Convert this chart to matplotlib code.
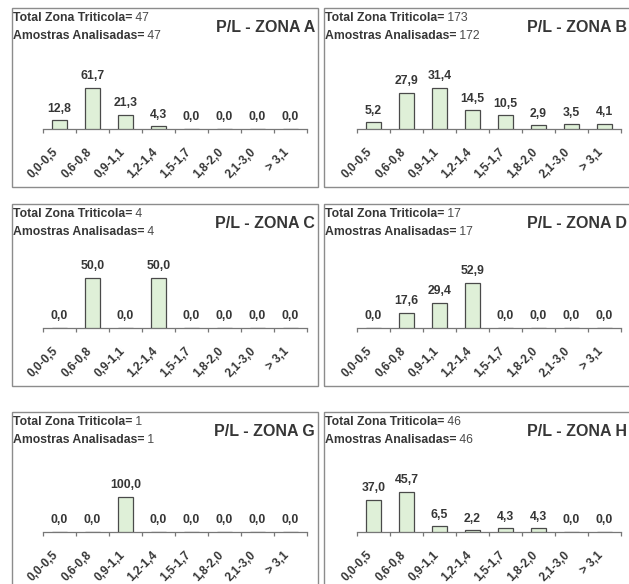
import matplotlib
matplotlib.use("Agg")
import matplotlib.pyplot as plt
from matplotlib.patches import Rectangle
from matplotlib.text import Annotation
from matplotlib.transforms import ScaledTranslation

plt.rcParams['font.family'] = ['Liberation Sans', 'DejaVu Sans']

categories = ["0,0-0,5", "0,6-0,8", "0,9-1,1", "1,2-1,4", "1,5-1,7", "1,8-2,0", "2,1-3,0", "> 3,1"]
zones = ["A", "B", "C", "D", "G", "H"]
totals = [47, 173, 4, 17, 1, 46]
amostras = [47, 172, 4, 17, 1, 46]
values_A = [12.8, 61.7, 21.3, 4.3, 0.0, 0.0, 0.0, 0.0]
values_B = [5.2, 27.9, 31.4, 14.5, 10.5, 2.9, 3.5, 4.1]
values_C = [0.0, 50.0, 0.0, 50.0, 0.0, 0.0, 0.0, 0.0]
values_D = [0.0, 17.6, 29.4, 52.9, 0.0, 0.0, 0.0, 0.0]
values_G = [0.0, 0.0, 100.0, 0.0, 0.0, 0.0, 0.0, 0.0]
values_H = [37.0, 45.7, 6.5, 2.2, 4.3, 4.3, 0.0, 0.0]
all_values = [values_A, values_B, values_C, values_D, values_G, values_H]

# layout (pixels)
W, H = 629, 584
fig = plt.figure(figsize=(W / 100, H / 100), dpi=100)
fig.patch.set_facecolor("white")

box_lefts = [12, 324]
box_width = 306
box_tops = [8, 204, 412]
box_bottoms = [187, 386, 600]
baselines = [129, 328, 532]
axis_offset_left = [31, 33]
axis_width = 264
plot_h = 60
tallest_px = [41, 41, 50, 45, 35, 40]

text_col = "#363636"
bar_face = "#dff0d8"
bar_edge = "#4a4a4a"
frame_col = "#8c8c8c"


def fr(x, y, w, h):
    return [x / W, 1 - (y + h) / H, w / W, h / H]


for i, zone in enumerate(zones):
    r, c = divmod(i, 2)
    bl, bt, bb = box_lefts[c], box_tops[r], box_bottoms[r]
    # frame box
    fig.patches.append(Rectangle((bl / W, 1 - bb / H), box_width / W, (bb - bt) / H,
                                 transform=fig.transFigure, fill=False,
                                 edgecolor=frame_col, linewidth=1.0))
    # header texts
    for line, (lab, num) in enumerate([("Total Zona Triticola=", totals[i]),
                                       ("Amostras Analisadas=", amostras[i])]):
        t = fig.text((bl + 1) / W, 1 - (bt + 9 + 18 * line) / H, lab,
                     fontsize=8.8, fontweight="bold", color=text_col, va="baseline", ha="left")
        t.set_y(1 - (bt + 13 + 18 * line) / H)
        ann = Annotation(f" {num}", xy=(1, 0), xycoords=t, xytext=(0, 0),
                         textcoords="offset points", va="bottom", ha="left",
                         fontsize=8.8, color="#4a4a4a")
        fig.add_artist(ann)
    fig.text((bl + box_width - 3) / W, 1 - (bt + 20) / H, f"P/L - ZONA {zone}",
             fontsize=11.5, fontweight="bold", color=text_col, va="center", ha="right")

    vals = all_values[i]
    ax = fig.add_axes(fr(bl + axis_offset_left[c], baselines[r] - plot_h, axis_width, plot_h))
    xs = list(range(len(categories)))
    ax.bar(xs, vals, width=0.45, color=bar_face, edgecolor=bar_edge, linewidth=0.9, zorder=3)
    ymax = max(vals) * plot_h / tallest_px[i]
    ax.set_ylim(0, ymax)
    ax.set_xlim(-0.5, len(categories) - 0.5)
    for x, v in zip(xs, vals):
        ax.annotate(f"{v:.1f}".replace(".", ","), (x, v), xytext=(0, 4),
                    textcoords="offset points", ha="center", va="bottom",
                    fontsize=8.8, fontweight="bold", color=text_col)
    for s in ["top", "right", "left"]:
        ax.spines[s].set_visible(False)
    ax.spines["bottom"].set_color("#777777")
    ax.spines["bottom"].set_linewidth(0.9)
    ax.set_yticks([])
    ax.set_xticks([x - 0.5 for x in range(len(categories) + 1)], minor=False)
    ax.set_xticklabels([])
    ax.tick_params(axis="x", which="major", length=3, color="#777777", width=0.9)
    ax.set_xticks(xs, minor=True)
    ax.set_xticklabels(categories, minor=True, rotation=45, ha="right",
                       rotation_mode="anchor", fontsize=8.5, fontweight="bold", color=text_col)
    ax.tick_params(axis="x", which="minor", length=0, pad=12.5)
    shift = ScaledTranslation(-7 / 100, 0, fig.dpi_scale_trans)
    for lbl in ax.get_xticklabels(minor=True):
        lbl.set_transform(lbl.get_transform() + shift)
    ax.patch.set_alpha(0)

fig.savefig("out.png", dpi=100, facecolor="white")
